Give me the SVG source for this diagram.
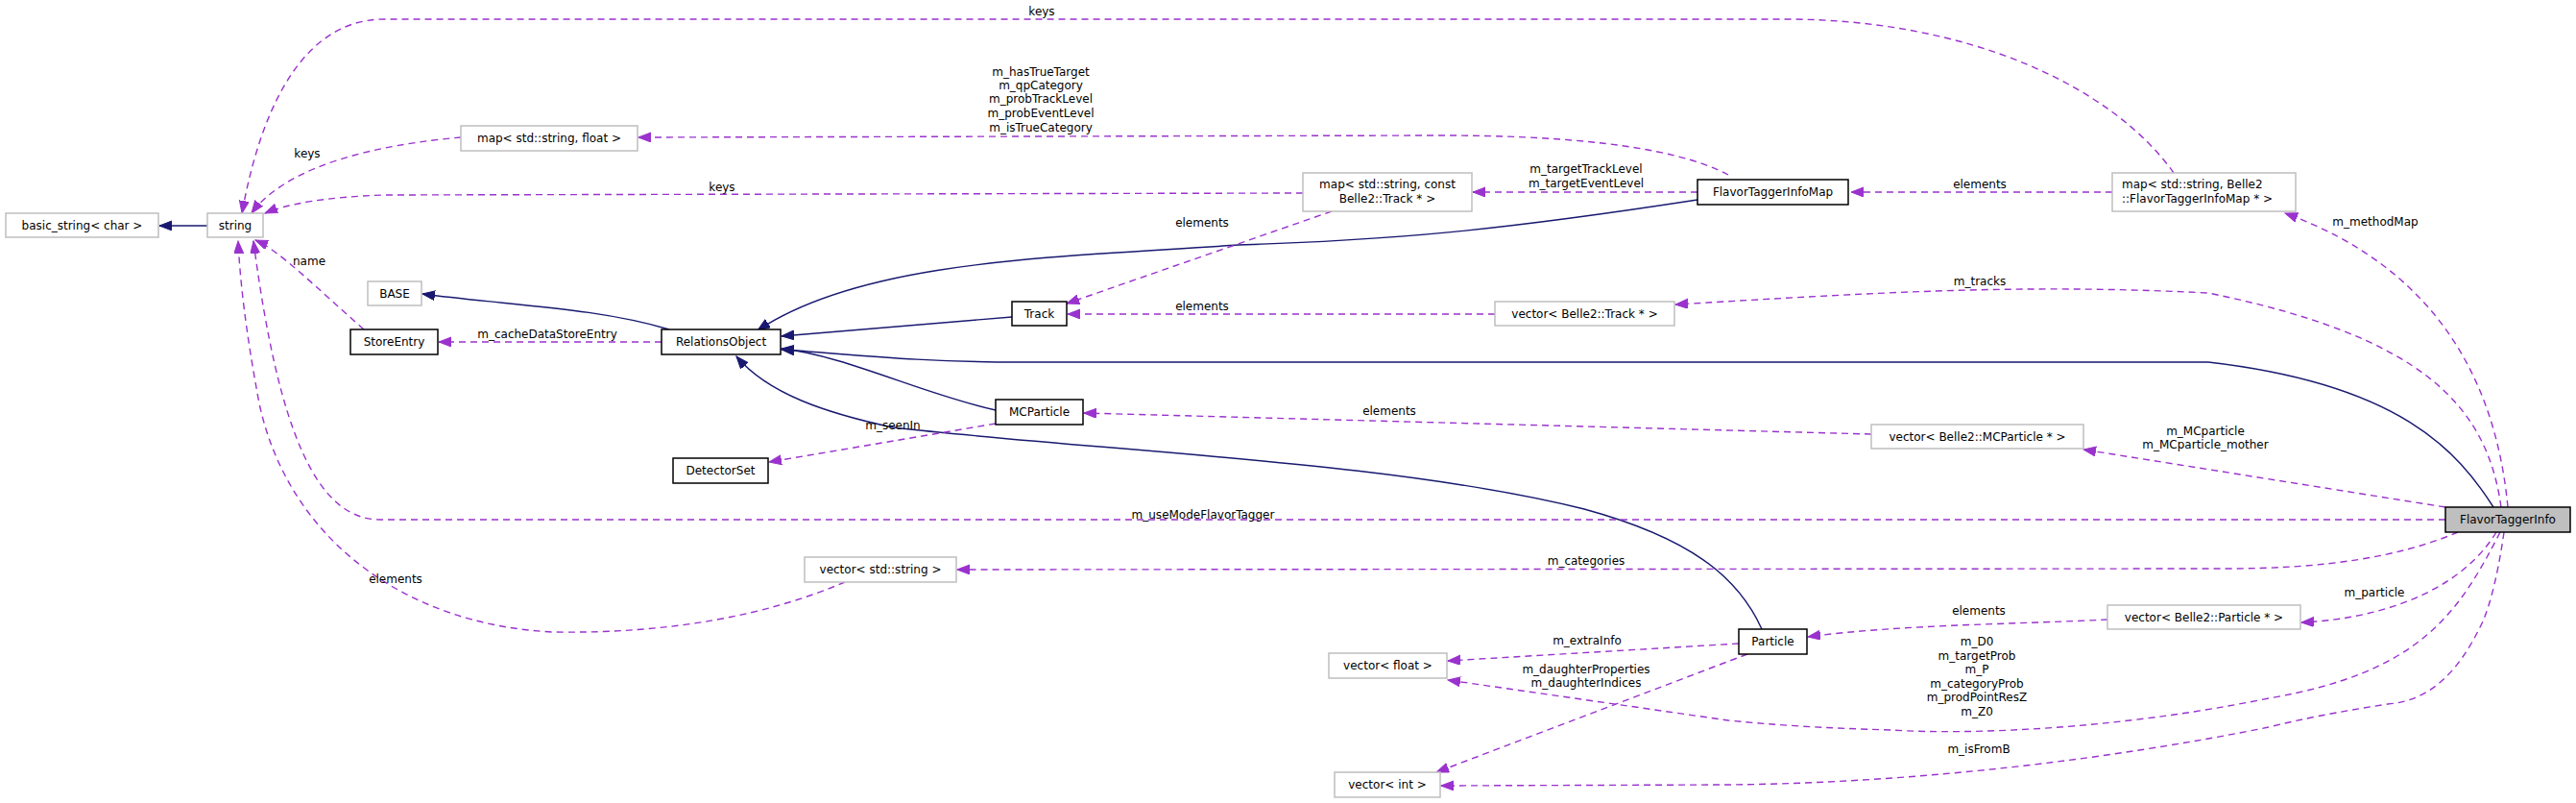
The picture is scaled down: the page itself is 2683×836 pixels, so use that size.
<svg xmlns="http://www.w3.org/2000/svg" width="2683" height="836" viewBox="0 0 2683 836">
<style>
text{font-family:"DejaVu Sans",sans-serif;font-size:12px;fill:#000}
.n{text-anchor:middle}
.g rect{fill:#fff;stroke:#bfbfbf;stroke-width:1.5}
.b rect{fill:#fff;stroke:#000;stroke-width:1.5}
.d{fill:none;stroke:#9a32cd;stroke-width:1.4;stroke-dasharray:7,5}
.s{fill:none;stroke:#191970;stroke-width:1.4}
.l{text-anchor:middle}
</style>
<defs>
<marker id="ap" markerUnits="userSpaceOnUse" markerWidth="14" markerHeight="12" refX="13" refY="5" orient="auto"><path d="M0,0 L13,5 L0,10 z" fill="#9a32cd" stroke="#9a32cd"/></marker>
<marker id="ab" markerUnits="userSpaceOnUse" markerWidth="14" markerHeight="12" refX="13" refY="5" orient="auto"><path d="M0,0 L13,5 L0,10 z" fill="#191970" stroke="#191970"/></marker>
</defs>
<rect width="2683" height="836" fill="#fff"/>
<g id="edges">
<path class="s" marker-end="url(#ab)" d="M216,235 L166,235"/>
<path class="s" marker-end="url(#ab)" d="M697,343 C620,320 530,318 440,306"/>
<path class="s" marker-end="url(#ab)" d="M1054,330 L814,350"/>
<path class="s" marker-end="url(#ab)" d="M1768,208 C1560,240 1450,250 1290,255 C1100,268 900,270 789,344"/>
<path class="s" marker-end="url(#ab)" d="M1037,427 C960,410 880,370 814,363"/>
<path class="s" marker-end="url(#ab)" d="M1835,655 C1810,600 1760,560 1650,530 C1450,480 1150,470 930,445 C860,430 800,410 767,371"/>
<path class="s" marker-end="url(#ab)" d="M2597,528 C2560,470 2500,400 2300,377 L1060,377 C950,377 880,368 814,364"/>

<path class="d" marker-end="url(#ap)" d="M1800,182 C1740,150 1620,141 1500,141 L665,143"/>
<path class="d" marker-end="url(#ap)" d="M480,143 C400,150 300,170 262,222"/>
<path class="d" marker-end="url(#ap)" d="M1357,201 L400,203 C340,205 300,212 276,222"/>
<path class="d" marker-end="url(#ap)" d="M2264,180 C2200,90 2050,20 1860,20 L400,20 C300,20 265,150 252,222"/>
<path class="d" marker-end="url(#ap)" d="M379,343 C330,300 290,260 266,250"/>
<path class="d" marker-end="url(#ap)" d="M689,356 L457,356"/>
<path class="d" marker-end="url(#ap)" d="M1768,200 L1534,200"/>
<path class="d" marker-end="url(#ap)" d="M2200,200 L1928,200"/>
<path class="d" marker-end="url(#ap)" d="M1387,220 L1111,316"/>
<path class="d" marker-end="url(#ap)" d="M1557,327 L1112,327"/>
<path class="d" marker-end="url(#ap)" d="M2605,528 C2590,420 2520,350 2300,305 C2100,295 1950,305 1745,317"/>
<path class="d" marker-end="url(#ap)" d="M2612,528 C2600,400 2540,280 2380,222"/>
<path class="d" marker-end="url(#ap)" d="M1037,441 L801,481"/>
<path class="d" marker-end="url(#ap)" d="M1949,452 L1129,430"/>
<path class="d" marker-end="url(#ap)" d="M2547,528 L2170,468"/>
<path class="d" marker-end="url(#ap)" d="M2547,541 L396,541 C330,541 290,450 264,251"/>
<path class="d" marker-end="url(#ap)" d="M880,606 C800,640 700,660 575,658 C420,650 300,560 270,420 C255,340 250,290 248,251"/>
<path class="d" marker-end="url(#ap)" d="M2560,554 C2500,580 2420,592 2320,592 L997,593"/>
<path class="d" marker-end="url(#ap)" d="M2600,554 C2560,620 2470,645 2397,648"/>
<path class="d" marker-end="url(#ap)" d="M2195,645 C2100,650 1980,650 1883,663"/>
<path class="d" marker-end="url(#ap)" d="M1811,670 L1508,688"/>
<path class="d" marker-end="url(#ap)" d="M1820,681 L1496,804"/>
<path class="d" marker-end="url(#ap)" d="M2604,554 C2560,640 2520,700 2363,727 C2200,760 2050,765 1969,760 C1900,758 1850,755 1800,750 L1508,708"/>
<path class="d" marker-end="url(#ap)" d="M2608,554 C2600,610 2590,640 2583,653 C2560,700 2530,730 2487,733 C2430,742 2400,748 2363,757 C2200,790 2000,815 1800,817 L1501,818"/>
</g>
<g id="edge-labels">
<text class="l" x="1084" y="79">m_hasTrueTarget</text>
<text class="l" x="1084" y="93">m_qpCategory</text>
<text class="l" x="1084" y="107">m_probTrackLevel</text>
<text class="l" x="1084" y="122">m_probEventLevel</text>
<text class="l" x="1084" y="137">m_isTrueCategory</text>
<text class="l" x="320" y="164">keys</text>
<text class="l" x="752" y="199">keys</text>
<text class="l" x="1085" y="16">keys</text>
<text class="l" x="322" y="276">name</text>
<text class="l" x="570" y="352">m_cacheDataStoreEntry</text>
<text class="l" x="1652" y="180">m_targetTrackLevel</text>
<text class="l" x="1652" y="195">m_targetEventLevel</text>
<text class="l" x="2062" y="196">elements</text>
<text class="l" x="1252" y="236">elements</text>
<text class="l" x="1252" y="323">elements</text>
<text class="l" x="2062" y="297">m_tracks</text>
<text class="l" x="2474" y="235">m_methodMap</text>
<text class="l" x="930" y="447">m_seenIn</text>
<text class="l" x="1447" y="432">elements</text>
<text class="l" x="2297" y="453">m_MCparticle</text>
<text class="l" x="2297" y="467">m_MCparticle_mother</text>
<text class="l" x="1253" y="540">m_useModeFlavorTagger</text>
<text class="l" x="412" y="607">elements</text>
<text class="l" x="1652" y="588">m_categories</text>
<text class="l" x="2473" y="621">m_particle</text>
<text class="l" x="2061" y="640">elements</text>
<text class="l" x="1653" y="671">m_extraInfo</text>
<text class="l" x="1652" y="701">m_daughterProperties</text>
<text class="l" x="1652" y="715">m_daughterIndices</text>
<text class="l" x="2059" y="672">m_D0</text>
<text class="l" x="2059" y="687">m_targetProb</text>
<text class="l" x="2059" y="701">m_P</text>
<text class="l" x="2059" y="716">m_categoryProb</text>
<text class="l" x="2059" y="730">m_prodPointResZ</text>
<text class="l" x="2059" y="745">m_Z0</text>
<text class="l" x="2061" y="784">m_isFromB</text>
</g>
<g id="basic_string" class="g"><rect x="6" y="222" width="159" height="25"/><text class="n" x="85.5" y="239">basic_string&lt; char &gt;</text></g>
<g id="string" class="g"><rect x="216" y="222" width="58" height="25"/><text class="n" x="245" y="239">string</text></g>
<g id="map_string_float" class="g"><rect x="480" y="131" width="184" height="26"/><text class="n" x="572" y="148">map&lt; std::string, float &gt;</text></g>
<g id="BASE" class="g"><rect x="383" y="293" width="56" height="25"/><text class="n" x="411" y="310">BASE</text></g>
<g id="StoreEntry" class="b"><rect x="365" y="343" width="91" height="26"/><text class="n" x="410.5" y="360">StoreEntry</text></g>
<g id="RelationsObject" class="b"><rect x="689" y="343" width="124" height="26"/><text class="n" x="751" y="360">RelationsObject</text></g>
<g id="DetectorSet" class="b"><rect x="701" y="477" width="99" height="26"/><text class="n" x="750.5" y="494">DetectorSet</text></g>
<g id="map_string_track" class="g"><rect x="1357" y="180" width="176" height="40"/><text class="n" x="1445" y="196">map&lt; std::string, const</text><text class="n" x="1445" y="211">Belle2::Track * &gt;</text></g>
<g id="Track" class="b"><rect x="1054" y="314" width="57" height="25"/><text class="n" x="1082.5" y="331">Track</text></g>
<g id="vector_track" class="g"><rect x="1557" y="314" width="187" height="25"/><text class="n" x="1650.5" y="331">vector&lt; Belle2::Track * &gt;</text></g>
<g id="FlavorTaggerInfoMap" class="b"><rect x="1768" y="187" width="157" height="26"/><text class="n" x="1846.5" y="204">FlavorTaggerInfoMap</text></g>
<g id="map_string_ftim" class="g"><rect x="2200" y="180" width="191" height="40"/><text x="2210" y="196">map&lt; std::string, Belle2</text><text x="2210" y="211">::FlavorTaggerInfoMap * &gt;</text></g>
<g id="MCParticle" class="b"><rect x="1037" y="416" width="91" height="26"/><text class="n" x="1082.5" y="433">MCParticle</text></g>
<g id="vector_mcparticle" class="g"><rect x="1949" y="442" width="221" height="25"/><text class="n" x="2059.5" y="459">vector&lt; Belle2::MCParticle * &gt;</text></g>
<g id="FlavorTaggerInfo"><rect x="2547" y="528" width="130" height="26" fill="#bfbfbf" stroke="#000" stroke-width="1.5"/><text class="n" x="2612" y="545">FlavorTaggerInfo</text></g>
<g id="vector_string" class="g"><rect x="838" y="580" width="158" height="26"/><text class="n" x="917" y="597">vector&lt; std::string &gt;</text></g>
<g id="vector_particle" class="g"><rect x="2195" y="630" width="201" height="25"/><text class="n" x="2295.5" y="647">vector&lt; Belle2::Particle * &gt;</text></g>
<g id="Particle" class="b"><rect x="1811" y="655" width="71" height="26"/><text class="n" x="1846.5" y="672">Particle</text></g>
<g id="vector_float" class="g"><rect x="1384" y="680" width="123" height="26"/><text class="n" x="1445.5" y="697">vector&lt; float &gt;</text></g>
<g id="vector_int" class="g"><rect x="1390" y="804" width="110" height="26"/><text class="n" x="1445" y="821">vector&lt; int &gt;</text></g>
</svg>
